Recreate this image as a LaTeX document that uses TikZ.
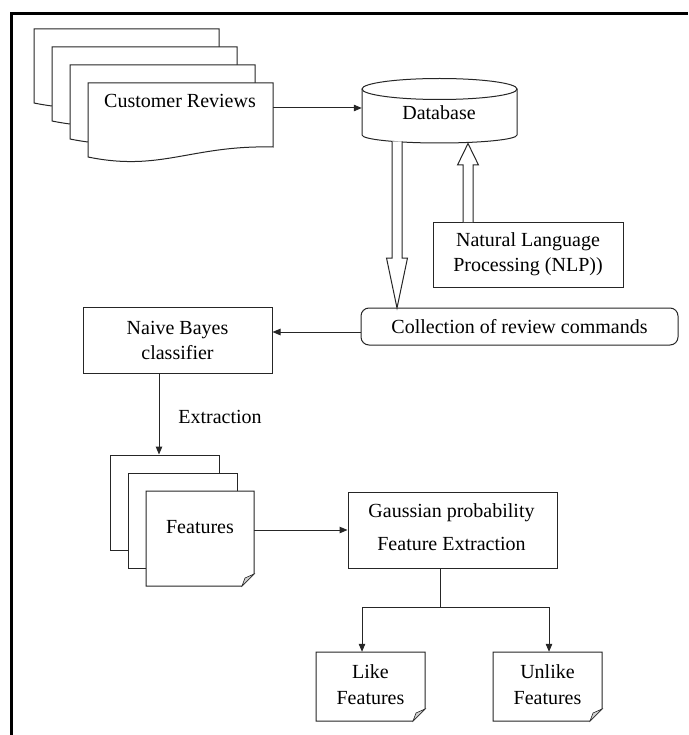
\documentclass[tikz,border=0pt]{standalone}
\usepackage{fontspec}
\setmainfont{Liberation Serif}
\usetikzlibrary{arrows.meta}
\newcommand\FoldNote[5]{% name, l, t, r, b
  \filldraw[line, fill=white] (#2,#3) -- (#4,#3) -- (#4,#5-12) -- (#4-12,#5) -- (#2,#5) -- cycle;
  \filldraw[line, line width=0.6pt, fill=black!18] (#4,#5-12) -- (#4-9,#5-8) -- (#4-12,#5) -- cycle;
  \node[inner sep=0pt, minimum width={(#4-#2)*1pt}, minimum height={(#5-#3)*1pt}] (#1) at ({(#2+#4)/2},{(#3+#5)/2}) {};
}
\begin{document}
\begin{tikzpicture}[x=1pt,y=-1pt,
  line/.style={line width=1pt, draw=black!85},
  arr/.style={line, -{Triangle[length=8pt,width=6.5pt]}},
  txt/.style={font=\fontsize{20}{25}\selectfont, align=center, inner sep=0pt},
  box/.style={line, fill=white, rectangle, inner sep=0pt, font=\fontsize{20}{25}\selectfont, align=center},
  ]
\useasboundingbox (0,0) rectangle (688,735);
\draw[line width=2.8pt] (11.3,735) -- (11.3,13.3) -- (688,13.3);

% customer review stack
\foreach \i in {0,1,2,3}{
  \begin{scope}[shift={(34+18*\i,29+18*\i)}]
    \filldraw[line, fill=white] (0,0) -- (185,0) -- (185,64) .. controls (103,62) and (73,89) .. (0,74) -- cycle;
  \end{scope}
}
\node[inner sep=0pt, minimum width=185pt, minimum height=64pt] (crdoc) at (180.5,115) {};
\node[txt] (cr) at (180,101) {Customer Reviews};

% database
\node[inner sep=0pt, minimum width=155pt, minimum height=50pt] (db) at (439.5,108) {};
\draw[line, fill=white] (362,89) -- (362,135) arc[start angle=180, end angle=0, x radius=77.5, y radius=8] -- (517,89);
\draw[line, fill=white] (439.5,89) ellipse[x radius=77.5, y radius=10.5];
\node[txt] (dbt) at (439,113) {Database};
\draw[arr] (db.west -| crdoc.east) -- (db.west);

% NLP
\node[box, minimum width=190pt, minimum height=65pt] (nlp) at (528,254.5) {Natural Language\\Processing (NLP))};
% collection
\node[box, rounded corners=8pt, minimum width=317pt, minimum height=37pt] (coll) at (519.5,326.5) {Collection of review commands};

% hollow arrows
\draw[line, fill=white] (392,141.5) -- (392,258) -- (386.5,258) -- (397,308) -- (407.5,258) -- (402,258) -- (402,141.5);
\draw[line, fill=white] (463,222) -- (463,165) -- (457.5,165) -- (468,143.5) -- (478.5,165) -- (473,165) -- (473,222);

% Naive Bayes
\node[box, minimum width=189pt, minimum height=66pt] (nb) at (177.5,340) {Naive Bayes\\classifier};
\draw[arr] ([yshift=-5.5pt]coll.west) -- ([yshift=-5.5pt]coll.west -| nb.east);

% features stack
\node[line, draw, fill=white, inner sep=0pt, minimum width=109pt, minimum height=95pt] (fb1) at (164.5,502.5) {};
\node[line, draw, fill=white, inner sep=0pt, minimum width=109pt, minimum height=95pt] (fb2) at (182.5,520.5) {};
\FoldNote{feat}{146}{491}{254}{586}
\node[txt] (featt) at (200,527) {Features};
\draw[arr] ([xshift=-18.5pt]nb.south) -- ([xshift=-18.5pt]nb.south |- fb1.north);
\node[txt] (ext) at (220,417) {Extraction};

% Gaussian
\node[box, minimum width=209pt, minimum height=76pt] (gauss) at (452.5,530) {};
\node[txt, font=\fontsize{20}{33}\selectfont] (gausst) at (451.5,527) {Gaussian probability\\Feature Extraction};
\draw[arr] (gauss.west -| feat.east) -- (gauss.west);

% like / unlike
\FoldNote{like}{316}{652}{425}{721}
\FoldNote{unlike}{493}{652}{602}{721}
\node[txt, font=\fontsize{20}{26}\selectfont] (liket) at (370.5,684.5) {Like\\Features};
\node[txt, font=\fontsize{20}{26}\selectfont] (unliket) at (547.5,684.5) {Unlike\\Features};

\coordinate (gs) at ([xshift=-12.5pt]gauss.south);
\coordinate (split) at (440,607);
\draw[line] (gs) -- (split);
\draw[arr] (split) -| ([xshift=-8.5pt]like.north);
\draw[arr] (split) -| ([xshift=1.5pt]unlike.north);
\end{tikzpicture}
\end{document}
